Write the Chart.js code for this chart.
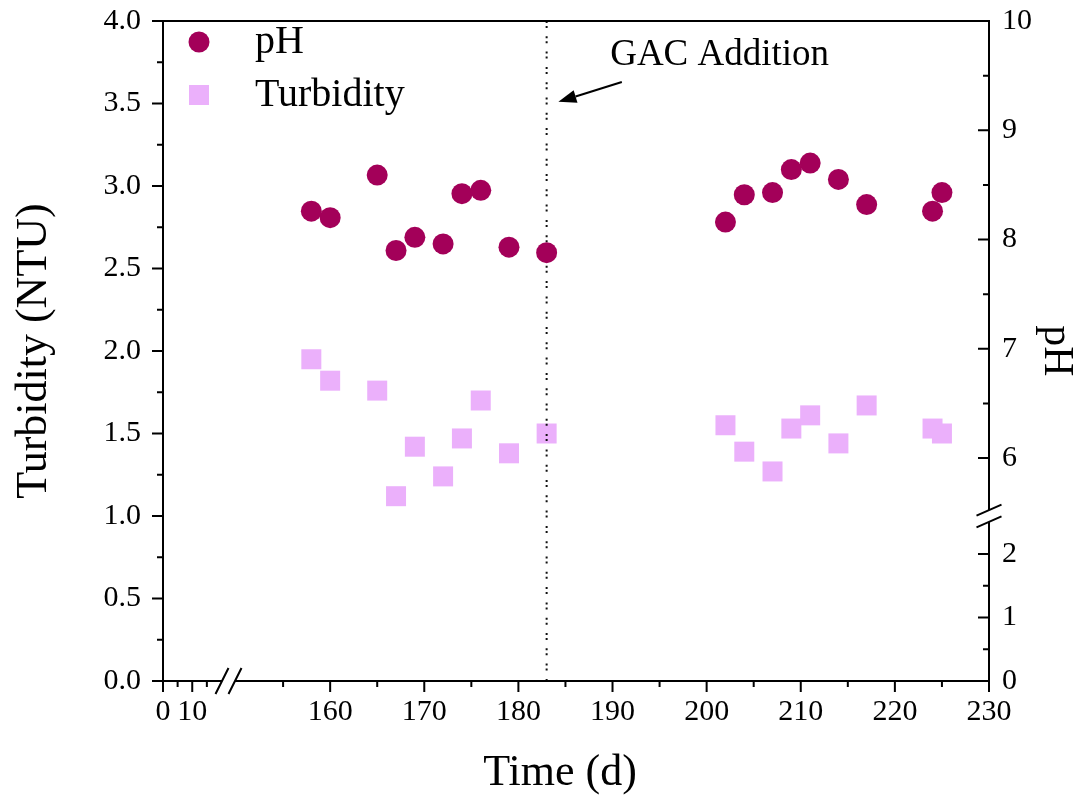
<!DOCTYPE html>
<html>
<head>
<meta charset="utf-8">
<script src="https://cdn.jsdelivr.net/npm/chart.js@4.4.0/dist/chart.umd.min.js"></script>
<style>
  html, body { margin: 0; padding: 0; background: #fff; }
  #wrap { width: 1081px; height: 801px; }
</style>
</head>
<body>
<div id="wrap"><canvas id="chart"></canvas></div>
<script>
// values
const days = [158, 160, 165, 167, 169, 172, 174, 176, 179, 183, 202, 204, 207, 209, 211, 214, 217, 224, 225];
const phValues = [8.26, 8.20, 8.59, 7.90, 8.02, 7.96, 8.42, 8.45, 7.93, 7.88, 8.16, 8.41, 8.43, 8.64, 8.70, 8.55, 8.32, 8.26, 8.43];
const turbidityValues = [1.95, 1.82, 1.76, 1.12, 1.42, 1.24, 1.47, 1.70, 1.38, 1.50, 1.55, 1.39, 1.27, 1.53, 1.61, 1.44, 1.67, 1.53, 1.50];

const xMajorTicks = [0, 10, 160, 170, 180, 190, 200, 210, 220, 230];
const xMinorTicks = [5, 15, 155, 165, 175, 185, 195, 205, 215, 225];
const turbMajorTicks = [0, 0.5, 1, 1.5, 2, 2.5, 3, 3.5, 4];
const turbMinorTicks = [0.25, 0.75, 1.25, 1.75, 2.25, 2.75, 3.25, 3.75];
const phMajorTicks = [0, 1, 2, 6, 7, 8, 9, 10];
const phMinorTicks = [0.5, 1.5, 6.5, 7.5, 8.5, 9.5];

const gacDay = 183;
const gacLabel = "GAC Addition";

const PH_COLOR = "#A30059";
const TURB_COLOR = "#EBB0FB";
const FONT = '"Liberation Serif", "Times New Roman", serif';

// linear scale with an axis break: each segment maps [min,max] onto a part of the axis
class BrokenScale extends Chart.LinearScale {
  static id = "broken";
  static defaults = Chart.LinearScale.defaults;

  _frac(value) {
    const segs = this.options.segments;
    for (let i = 0; i < segs.length; i++) {
      const s = segs[i];
      if (value <= s.max || i === segs.length - 1) {
        if (value < s.min) return s.from;
        return s.from + (value - s.min) / (s.max - s.min) * (s.to - s.from);
      }
    }
    return 1;
  }
  getPixelForValue(value) {
    const f = this._frac(value);
    return this.isHorizontal() ? this.left + this.width * f : this.bottom - this.height * f;
  }
  getValueForPixel(pixel) {
    const f = this.isHorizontal() ? (pixel - this.left) / this.width : (this.bottom - pixel) / this.height;
    for (const s of this.options.segments) {
      if (f <= s.to) return s.min + (f - s.from) / (s.to - s.from) * (s.max - s.min);
    }
    const last = this.options.segments[this.options.segments.length - 1];
    return last.max;
  }
  breakPixel() {
    const f = this.options.segments[0].to;
    return this.isHorizontal() ? this.left + this.width * f : this.bottom - this.height * f;
  }
}
Chart.register(BrokenScale);

const setTicks = (values) => (scale) => { scale.ticks = values.map(v => ({ value: v })); };

// frame, ticks, breaks, legend and annotation
const framePlugin = {
  id: "frame",
  beforeDatasetDraw(chart, args) {
    if (args.index !== 0) return;
    // dotted marker line for the GAC addition (under pH, over turbidity)
    const { ctx, chartArea: a } = chart;
    const x = chart.scales.x.getPixelForValue(gacDay);
    ctx.save();
    ctx.strokeStyle = "#111";
    ctx.lineWidth = 2;
    ctx.setLineDash([2, 3, 2, 8.3]);
    ctx.beginPath();
    ctx.moveTo(x, a.top);
    ctx.lineTo(x, a.bottom);
    ctx.stroke();
    ctx.restore();
  },
  afterDatasetsDraw(chart) {
    const { ctx, chartArea: a, scales } = chart;
    const xs = scales.x, yl = scales.y, yr = scales.yPh;
    const L = a.left, R = a.right, T = a.top, B = a.bottom;
    ctx.save();
    ctx.strokeStyle = "#000";
    ctx.fillStyle = "#000";
    ctx.lineWidth = 2;
    ctx.lineCap = "butt";

    const xb = xs.breakPixel();
    const yb = yr.breakPixel();

    ctx.beginPath();
    // top and left
    ctx.moveTo(L, B + 1);
    ctx.lineTo(L, T);
    ctx.lineTo(R, T);
    // bottom with gap at break
    ctx.moveTo(L - 1, B);
    ctx.lineTo(xb - 6.5, B);
    ctx.moveTo(xb + 6.5, B);
    ctx.lineTo(R + 1, B);
    // right with gap at break
    ctx.moveTo(R, T - 1);
    ctx.lineTo(R, yb - 6);
    ctx.moveTo(R, yb + 6);
    ctx.lineTo(R, B);
    ctx.stroke();

    // break marks
    ctx.beginPath();
    [-6.5, 6.5].forEach(d => {
      ctx.moveTo(xb + d - 6.5, B + 13);
      ctx.lineTo(xb + d + 6.5, B - 13);
    });
    [-5.8, 5.8].forEach(d => {
      ctx.moveTo(R - 12.5, yb + d + 5.5);
      ctx.lineTo(R + 12.5, yb + d - 5.5);
    });
    ctx.stroke();

    // ticks
    const major = 11, minor = 6;
    ctx.beginPath();
    turbMajorTicks.forEach(v => { const y = yl.getPixelForValue(v); ctx.moveTo(L, y); ctx.lineTo(L - major, y); });
    turbMinorTicks.forEach(v => { const y = yl.getPixelForValue(v); ctx.moveTo(L, y); ctx.lineTo(L - minor, y); });
    xMajorTicks.forEach(v => { const x = xs.getPixelForValue(v); ctx.moveTo(x, B); ctx.lineTo(x, B + major); });
    xMinorTicks.forEach(v => { const x = xs.getPixelForValue(v); ctx.moveTo(x, B); ctx.lineTo(x, B + minor); });
    phMajorTicks.forEach(v => { const y = yr.getPixelForValue(v); ctx.moveTo(R, y); ctx.lineTo(R - major, y); });
    phMinorTicks.forEach(v => { const y = yr.getPixelForValue(v); ctx.moveTo(R, y); ctx.lineTo(R - minor, y); });
    ctx.stroke();

    // x axis title (sits a little left of the axis centre in the original)
    ctx.font = "44px " + FONT;
    ctx.textAlign = "center";
    ctx.textBaseline = "middle";
    ctx.fillText("Time (d)", (L + R) / 2 - 16, B + 92);

    // legend
    const lx = L + 36, ly = T + 21, gap = 53;
    ctx.fillStyle = PH_COLOR;
    ctx.beginPath();
    ctx.arc(lx, ly, 10.5, 0, Math.PI * 2);
    ctx.fill();
    ctx.fillStyle = TURB_COLOR;
    ctx.fillRect(lx - 10, ly + gap - 10, 20, 20);
    ctx.fillStyle = "#000";
    ctx.font = "40px " + FONT;
    ctx.textBaseline = "middle";
    ctx.textAlign = "left";
    ctx.fillText("pH", lx + 56, ly);
    ctx.fillText("Turbidity", lx + 56, ly + gap);

    // annotation: text plus arrow pointing at the dotted line
    const tipX = xs.getPixelForValue(184.25), tipY = yl.getPixelForValue(3.51);
    const tailX = xs.getPixelForValue(190.99), tailY = yl.getPixelForValue(3.63);
    ctx.font = "37px " + FONT;
    ctx.textBaseline = "alphabetic";
    ctx.fillText(gacLabel, xs.getPixelForValue(189.75), yl.getPixelForValue(3.733));
    const ang = Math.atan2(tipY - tailY, tipX - tailX);
    const hl = 18, hw = 6.5;
    const bx = tipX - hl * Math.cos(ang), by = tipY - hl * Math.sin(ang);
    ctx.beginPath();
    ctx.moveTo(tailX, tailY);
    ctx.lineTo(bx, by);
    ctx.stroke();
    ctx.beginPath();
    ctx.moveTo(tipX, tipY);
    ctx.lineTo(bx + hw * Math.sin(ang), by - hw * Math.cos(ang));
    ctx.lineTo(bx - hw * Math.sin(ang), by + hw * Math.cos(ang));
    ctx.closePath();
    ctx.fill();
    ctx.restore();
  }
};

const hiddenGrid = { display: false, drawTicks: false, tickLength: 0 };

new Chart(document.getElementById("chart"), {
  type: "scatter",
  data: {
    datasets: [
      {
        label: "pH",
        data: days.map((d, i) => ({ x: d, y: phValues[i] })),
        yAxisID: "yPh",
        pointStyle: "circle",
        pointRadius: 10.5,
        pointHoverRadius: 10.5,
        backgroundColor: PH_COLOR,
        borderWidth: 0
      },
      {
        label: "Turbidity",
        data: days.map((d, i) => ({ x: d, y: turbidityValues[i] })),
        yAxisID: "y",
        pointStyle: "rect",
        pointRadius: 14.14,
        pointHoverRadius: 14.14,
        backgroundColor: TURB_COLOR,
        borderWidth: 0
      }
    ]
  },
  options: {
    responsive: true,
    maintainAspectRatio: false,
    animation: false,
    layout: { padding: { top: 21, left: 0, right: 0, bottom: 0 } },
    plugins: { legend: { display: false }, tooltip: { enabled: false } },
    scales: {
      x: {
        type: "broken",
        position: "bottom",
        min: 0,
        max: 230,
        segments: [
          { min: 0, max: 22.4, from: 0, to: 0.0793 },
          { min: 149.2, max: 230, from: 0.0793, to: 1 }
        ],
        afterBuildTicks: setTicks(xMajorTicks),
        afterFit: s => { s.height = 120; s.paddingLeft = 0; s.paddingRight = 0; },
        grid: hiddenGrid,
        border: { display: false },
        ticks: {
          autoSkip: false, maxRotation: 0, minRotation: 0, padding: 13,
          color: "#000", font: { family: FONT, size: 30 },
          callback: v => String(v)
        }
      },
      y: {
        type: "linear",
        position: "left",
        min: 0,
        max: 4,
        afterBuildTicks: setTicks(turbMajorTicks),
        afterFit: s => { s.width = 163; s.paddingTop = 0; s.paddingBottom = 0; },
        grid: hiddenGrid,
        border: { display: false },
        ticks: {
          autoSkip: false, padding: 22, color: "#000",
          font: { family: FONT, size: 30 },
          callback: v => Number(v).toFixed(1)
        },
        title: {
          display: true, text: "Turbidity (NTU)", color: "#000",
          font: { family: FONT, size: 44 }, padding: { top: 8, bottom: 0 }
        }
      },
      yPh: {
        type: "broken",
        position: "right",
        min: 0,
        max: 10,
        segments: [
          { min: 0, max: 2.6, from: 0, to: 0.25 },
          { min: 5.47, max: 10, from: 0.25, to: 1 }
        ],
        afterBuildTicks: setTicks(phMajorTicks),
        afterFit: s => { s.width = 92; s.paddingTop = 0; s.paddingBottom = 0; },
        grid: hiddenGrid,
        border: { display: false },
        ticks: {
          autoSkip: false, padding: 13, color: "#000",
          font: { family: FONT, size: 30 },
          callback: v => String(v)
        },
        title: {
          display: true, text: "pH", color: "#000",
          font: { family: FONT, size: 42 }, padding: { top: 0, bottom: 0 }
        }
      }
    }
  },
  plugins: [framePlugin]
});
</script>
</body>
</html>
